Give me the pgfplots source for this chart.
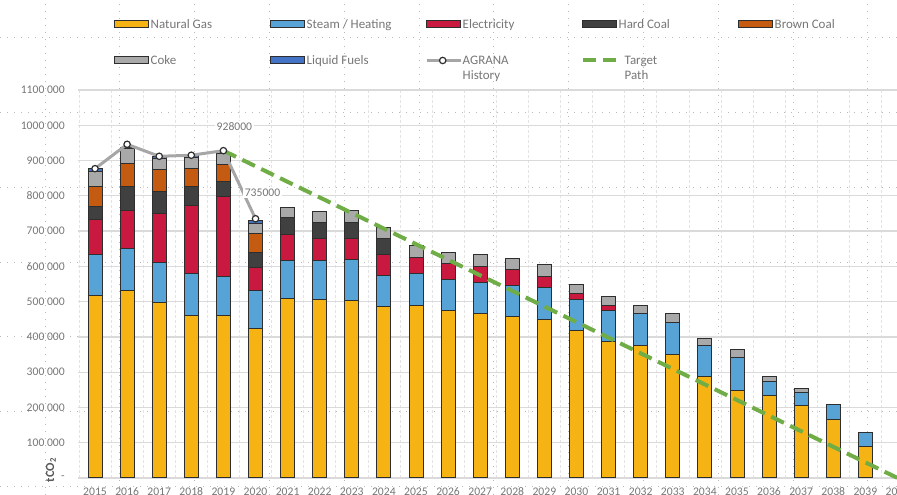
\documentclass[border=0pt]{standalone}
\usepackage{fontspec}
\setmainfont{Carlito}
\usepackage{pgfplots}
\pgfplotsset{compat=1.18}
\usepackage{pgfplotstable}

\definecolor{cNG}{HTML}{F5B414}
\definecolor{cST}{HTML}{58A3D5}
\definecolor{cEL}{HTML}{C9193F}
\definecolor{cHC}{HTML}{404040}
\definecolor{cBC}{HTML}{C55A11}
\definecolor{cCK}{HTML}{A9A9A9}
\definecolor{cLF}{HTML}{4472C4}
\definecolor{cHist}{HTML}{A6A6A6}
\definecolor{cTgt}{HTML}{70AD47}
\definecolor{txt}{HTML}{767676}
\definecolor{txtdark}{HTML}{595959}
\definecolor{edge}{HTML}{2E2E2E}
\definecolor{gridc}{HTML}{DADADA}

% emissions by energy source, tCO2
\pgfplotstableread{
year ng     steam  elec   hard  brown coke  liquid
2015 518000 115000 99000  38000 55000 45000 7000
2016 531000 120000 108000 68000 64000 42000 5000
2017 498000 112000 140000 61000 63000 33000 4000
2018 460000 120000 193000 54000 50000 31000 5000
2019 462000 110000 227000 42000 48000 30000 5000
2020 424000 108000 66000  42000 54000 28000 8000
2021 509000 108000 74000  47000 0     30000 0
2022 506000 111000 61000  47000 0     31000 0
2023 502000 117000 60000  45000 0     33000 0
2024 487000 86000  61000  44000 0     33000 0
2025 490000 90000  45000  0     0     33000 0
2026 474000 89000  45000  0     0     32000 0
2027 466000 89000  46000  0     0     32000 0
2028 459000 87000  45000  0     0     32000 0
2029 450000 90000  31000  0     0     33000 0
2030 419000 88000  16000  0     0     26000 0
2031 386000 88000  14000  0     0     26000 0
2032 377000 88000  0      0     0     25000 0
2033 351000 90000  0      0     0     25000 0
2034 287000 88000  0      0     0     21000 0
2035 249000 93000  0      0     0     21000 0
2036 233000 40000  0      0     0     16000 0
2037 205000 38000  0      0     0     10000 0
2038 167000 40000  0      0     0     0     0
2039 89000  40000  0      0     0     0     0
}\emissions

\pgfplotstableread{
year hist
2015 877000
2016 946000
2017 912000
2018 915000
2019 928000
2020 735000
}\history

\pgfplotstableread{
year target
2019 928000
2040 0
}\target

\newcommand\legtext[1]{\makebox[118bp][l]{#1}}
\newcommand\legtwo[2]{\parbox[t]{118bp}{#1\\#2}}
% fixed 34bp x 8bp box for every legend key
\newcommand\legbox{\pgfpathrectangle{\pgfpointorigin}{\pgfpoint{34bp}{8bp}}\pgfusepath{use as bounding box}}

\pgfplotsset{
  base/.style={scale only axis, width=835.56bp, height=388bp,
    xmin=2014.47, xmax=2040.5, ymin=0, ymax=1100000,
    enlargelimits=false, at={(78bp,17bp)}, anchor=south west},
  patchleg/.style={legend image code/.code={\legbox
    \draw[##1, line width=1bp, draw=edge] (0bp,0.5bp) rectangle (34bp,7.5bp);}},
  histleg/.style={legend image code/.code={\legbox
    \draw[mark repeat=2, mark phase=2, ##1, sharp plot] plot coordinates {(0bp,4bp) (16bp,4bp) (34bp,4bp)};}},
  tgtleg/.style={legend image code/.code={\legbox
    \draw[##1] (0bp,4bp) -- (34bp,4bp);}},
}

\begin{document}
\begin{tikzpicture}[x=1bp,y=1bp]
% sheet grid behind the chart
\begin{scope}[gray!55, line width=0.7bp, dash pattern=on 0.8bp off 6.2bp]
  \foreach \gx in {45,119.8,...,900} \draw (\gx,0) -- (\gx,495);
  \foreach \gy in {8.4,83.3,...,460} \draw (0,\gy) -- (897,\gy);
\end{scope}

\begin{axis}[base,
  ybar stacked, bar width=14bp, bar shift=0pt,
  axis line style={draw=none},
  major tick length=0pt, tick style={draw=none},
  xtick={2015,...,2040},
  xticklabels={2015,2016,2017,2018,2019,2020,2021,2022,2023,2024,2025,2026,2027,
    2028,2029,2030,2031,2032,2033,2034,2035,2036,2037,2038,2039,2040},
  minor xtick={2014.5,2015.5,...,2040.5},
  xminorgrids, minor grid style={gray!22, line width=0.6bp, dash pattern=on 3bp off 2bp},
  ytick={0,100000,...,1100000},
  yticklabels={-\hspace{5pt},100 000,200 000,300 000,400 000,500 000,600 000,
    700 000,800 000,900 000,1000 000,1100 000},
  scaled y ticks=false,
  ymajorgrids, major grid style={gridc, line width=1.3bp},
  ticklabel style={font=\fontsize{11.7}{14}\selectfont, text=txt},
  yticklabel style={anchor=east, inner sep=0pt, xshift=-13bp},
  xticklabel style={anchor=base, inner sep=0pt, yshift=-17.5bp},
  legend columns=5,
  legend style={at={(0.0437,1.1822)}, anchor=north west, draw=none, fill=none,
    inner sep=0pt, row sep=24bp, column sep=0pt, font=\fontsize{13}{15.5}\selectfont, text=txt,
    cells={anchor=base west},
    nodes={inner ysep=0pt, inner xsep=2bp, anchor=base west,
      text height=9bp, text depth=3bp}},
]
\addplot[fill=cNG, draw=edge, line width=1bp, patchleg] table[x=year,y=ng]{\emissions};
\addlegendentry{\legtext{Natural Gas}}
\addplot[fill=cST, draw=edge, line width=1bp, patchleg] table[x=year,y=steam]{\emissions};
\addlegendentry{\legtext{Steam / Heating}}
\addplot[fill=cEL, draw=edge, line width=1bp, patchleg] table[x=year,y=elec]{\emissions};
\addlegendentry{\legtext{Electricity}}
\addplot[fill=cHC, draw=edge, line width=1bp, patchleg] table[x=year,y=hard]{\emissions};
\addlegendentry{\legtext{Hard Coal}}
\addplot[fill=cBC, draw=edge, line width=1bp, patchleg] table[x=year,y=brown]{\emissions};
\addlegendentry{\legtext{Brown Coal}}
\addplot[fill=cCK, draw=edge, line width=1bp, patchleg] table[x=year,y=coke]{\emissions};
\addlegendentry{\legtext{Coke}}
\addplot[fill=cLF, draw=edge, line width=1bp, patchleg] table[x=year,y=liquid]{\emissions};
\addlegendentry{\legtext{Liquid Fuels}}
\addlegendimage{histleg, cHist, line width=3bp, mark=*, mark size=3.2bp,
  mark options={fill=white, draw=edge, line width=1.2bp}}
\addlegendentry{\legtwo{AGRANA}{History}}
\addlegendimage{tgtleg, cTgt, line width=4bp, dash pattern=on 13bp off 7bp}
\addlegendentry{\legtwo{\hspace*{6bp}Target}{\hspace*{6bp}Path}}
\end{axis}

\begin{axis}[base, hide axis, clip=false]
\addplot[cHist, line width=3bp, mark=*, mark size=3.2bp,
  mark options={fill=white, draw=edge, line width=1.2bp}]
  table[x=year,y=hist]{\history};
\addplot[cTgt, line width=4bp, dash pattern=on 14bp off 7bp]
  table[x=year,y=target]{\target};
\node[font=\fontsize{11.7}{14}\selectfont, text=txt, fill=white, inner sep=1.5bp,
  xshift=11bp, yshift=24bp] at (axis cs:2019,928000) {928000};
\node[font=\fontsize{11.7}{14}\selectfont, text=txt, fill=white, inner sep=1.5bp,
  xshift=7bp, yshift=26bp] at (axis cs:2020,735000) {735000};
\end{axis}

\node[rotate=90, font=\bfseries\fontsize{12.5}{14}\selectfont, text=txtdark]
  at (51,25) {tCO\textsubscript{2}};

\pgfresetboundingbox
\path[use as bounding box] (0,0) rectangle (897,495);
\end{tikzpicture}
\end{document}
